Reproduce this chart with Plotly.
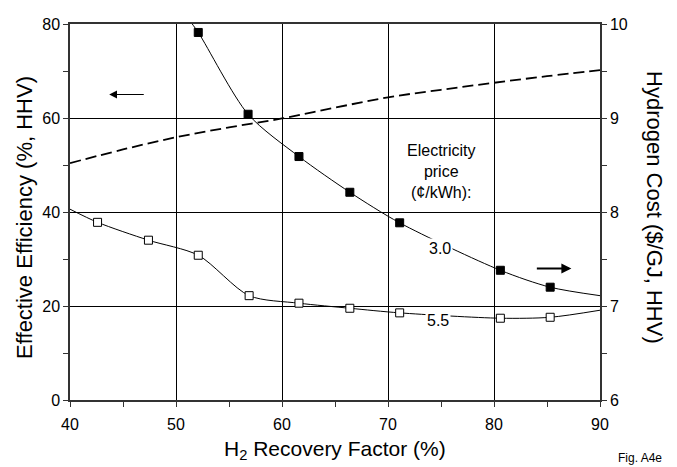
import plotly.graph_objects as go

# Data
eff_x = [40, 45, 50, 55, 60, 65, 70, 75, 80, 85, 90]
eff_y = [50.4, 53.3, 55.9, 58.0, 59.9, 62.2, 64.4, 66.0, 67.5, 68.9, 70.2]

c30_x = [52.1, 56.8, 61.6, 66.4, 71.1, 80.6, 85.3]
c30_y = [9.91, 9.04, 8.59, 8.21, 7.885, 7.38, 7.20]
c30_line_x = [51.0] + c30_x + [90]
c30_line_y = [10.08] + c30_y + [7.11]

c55_x = [42.6, 47.4, 52.1, 56.9, 61.6, 66.4, 71.1, 80.6, 85.3]
c55_y = [7.89, 7.70, 7.54, 7.11, 7.03, 6.976, 6.927, 6.87, 6.88]
c55_line_x = [40] + c55_x + [90]
c55_line_y = [8.03] + c55_y + [6.955]

FONT = "Liberation Sans, Arial, sans-serif"

fig = go.Figure()

fig.add_trace(go.Scatter(x=eff_x, y=eff_y, mode="lines",
                         line=dict(color="black", width=1.8, dash="11px,5px", shape="spline"),
                         yaxis="y", showlegend=False, hoverinfo="skip"))

fig.add_trace(go.Scatter(x=c30_line_x, y=c30_line_y, mode="lines",
                         line=dict(color="black", width=1, shape="spline", smoothing=0.8),
                         yaxis="y2", showlegend=False, hoverinfo="skip"))
fig.add_trace(go.Scatter(x=c30_x, y=c30_y, mode="markers",
                         marker=dict(symbol="square", size=8, color="black",
                                     line=dict(color="black", width=1)),
                         yaxis="y2", showlegend=False))

fig.add_trace(go.Scatter(x=c55_line_x, y=c55_line_y, mode="lines",
                         line=dict(color="black", width=1, shape="spline", smoothing=0.8),
                         yaxis="y2", showlegend=False, hoverinfo="skip"))
fig.add_trace(go.Scatter(x=c55_x, y=c55_y, mode="markers",
                         marker=dict(symbol="square", size=8, color="white",
                                     line=dict(color="black", width=1)),
                         yaxis="y2", showlegend=False))

axis_common = dict(showline=True, linecolor="#333", linewidth=1.5,
                   ticks="outside", ticklen=5, tickcolor="#333", tickwidth=1,
                   tickfont=dict(family=FONT, size=16, color="black"),
                   gridcolor="black", gridwidth=1, zeroline=False)

# page adds an 8px body margin, so the figure is 8px smaller and shifted
fig.update_layout(
    width=669, height=459,
    margin=dict(l=62, r=77, t=8, b=67),
    paper_bgcolor="white", plot_bgcolor="white",
    font=dict(family=FONT, color="black"),
    xaxis=dict(range=[40, 90], dtick=10, tick0=40, showgrid=True, mirror=True,
               ticklabelstandoff=4,
               minor=dict(dtick=5, ticks="outside", ticklen=5, tickcolor="#333", showgrid=False),
               **axis_common),
    yaxis=dict(range=[0, 80], dtick=20, tick0=0, showgrid=True,
               minor=dict(dtick=10, ticks="outside", ticklen=5, tickcolor="#333", showgrid=False),
               **axis_common),
    yaxis2=dict(range=[6, 10], dtick=1, tick0=6, overlaying="y", side="right", showgrid=False,
                minor=dict(dtick=0.5, ticks="outside", ticklen=5, tickcolor="#333", showgrid=False),
                **axis_common),
)

ann = []
ann.append(dict(x=0.5, y=(400 - 451) / 384, xref="paper", yref="paper",
                text="H<sub>2</sub> Recovery Factor (%)", showarrow=False,
                font=dict(size=21, family=FONT), xanchor="center", yanchor="middle"))
ann.append(dict(x=(25 - 70) / 530, y=(400 - 214) / 384, xref="paper", yref="paper",
                text="Effective Efficiency (%, HHV)", showarrow=False, textangle=-90,
                font=dict(size=22, family=FONT), xanchor="center", yanchor="middle"))
ann.append(dict(x=(655 - 70) / 530, y=(400 - 203) / 384, xref="paper", yref="paper",
                text="Hydrogen Cost ($/GJ, HHV)", showarrow=False, textangle=90,
                font=dict(size=22, family=FONT), xanchor="center", yanchor="middle"))
ann.append(dict(x=(640 - 70) / 530, y=(400 - 459) / 384, xref="paper", yref="paper",
                text="Fig. A4e", showarrow=False,
                font=dict(size=12, family=FONT), xanchor="center", yanchor="middle"))
ann.append(dict(x=75.0, y=8.43, xref="x", yref="y2",
                text="Electricity<br>price<br>(¢/kWh):", showarrow=False,
                font=dict(size=16, family=FONT), align="center"))
ann.append(dict(x=74.9, y=7.61, xref="x", yref="y2", text="3.0", showarrow=False,
                font=dict(size=16, family=FONT), bgcolor="white", borderpad=1))
ann.append(dict(x=74.7, y=6.85, xref="x", yref="y2", text="5.5", showarrow=False,
                font=dict(size=16, family=FONT), bgcolor="white", borderpad=1))
ann.append(dict(x=43.7, y=65, ax=47.1, ay=65, xref="x", yref="y", axref="x", ayref="y",
                text="", showarrow=True, arrowhead=2, arrowsize=1.3, arrowwidth=1.2,
                arrowcolor="black"))
ann.append(dict(x=87.3, y=7.40, ax=83.9, ay=7.40, xref="x", yref="y2", axref="x", ayref="y2",
                text="", showarrow=True, arrowhead=2, arrowsize=1, arrowwidth=2,
                arrowcolor="black"))
fig.update_layout(annotations=ann)

fig.write_html("out.html")
